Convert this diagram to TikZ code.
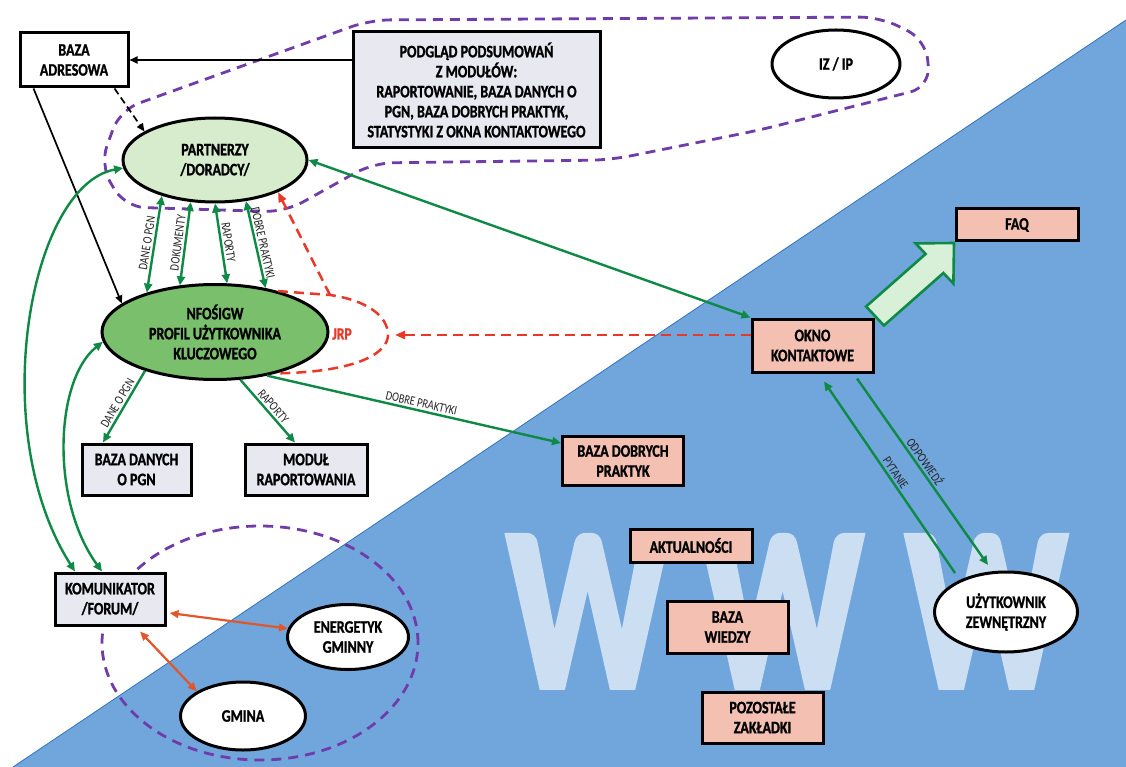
\documentclass[tikz,border=0pt]{standalone}
\usepackage{fontspec}
\setmainfont{Carlito}[FakeStretch=0.8, BoldFeatures={FakeBold=1.2}]
\newfontfamily\wwwfont{Carlito}[FakeStretch=0.76, BoldFeatures={FakeBold=2.5}]
\usetikzlibrary{arrows.meta,shapes.geometric,calc}
\definecolor{pgray}{RGB}{232,232,240}
\definecolor{salmon}{RGB}{244,192,178}
\definecolor{lgreen}{RGB}{214,236,204}
\definecolor{mgreen}{RGB}{122,192,108}
\definecolor{arrgreen}{RGB}{14,138,70}
\definecolor{bgblue}{RGB}{112,166,220}
\definecolor{bgedge}{RGB}{50,115,190}
\definecolor{wcol}{RGB}{204,222,242}
\definecolor{purp}{RGB}{112,60,170}
\definecolor{jrpred}{RGB}{234,56,40}
\definecolor{orar}{RGB}{226,86,44}
\definecolor{blockfill}{RGB}{216,240,216}
\newcommand\boxf{\bfseries\fontsize{17.5}{20}\selectfont}
\newcommand\lblf{\fontsize{13}{15}\selectfont}
\newcommand\wwwf{\wwwfont\bfseries\fontsize{233}{233}\selectfont}
\begin{document}
\begin{tikzpicture}[x=1pt,y=-1pt,
  box/.style={draw=black, line width=3pt, align=center, inner sep=2pt, font=\boxf},
  gbox/.style={box, fill=pgray},
  sbox/.style={box, fill=salmon},
  ell/.style={ellipse, draw=black, line width=3pt, align=center, inner sep=0pt, font=\boxf, fill=white},
  lbl/.style={font=\lblf, text=black!85, inner sep=2pt},
  garrow/.style={draw=arrgreen, line width=2.4pt, >={Triangle[length=9pt,width=8pt]}},
  barrow/.style={draw=black, line width=1.7pt, ->, >={Triangle[length=8pt,width=7pt]}},
  rdash/.style={draw=jrpred, line width=2.5pt, dash pattern=on 10pt off 6pt, >={Triangle[length=10pt,width=8pt]}},
  pdash/.style={draw=purp, line width=2.8pt, dash pattern=on 10pt off 7pt},
  oarrow/.style={draw=orar, line width=2.2pt, >={Triangle[length=9pt,width=7.5pt]}}
]
\useasboundingbox (0,0) rectangle (1126,767);
\fill[white] (0,0) rectangle (1126,767);
% blue web area
\fill[bgblue] (13,767) -- (1126,20) -- (1126,767) -- cycle;
\draw[bgedge, line width=0.8pt] (13,767) -- (1126,20);
% WWW letters
\node[anchor=base west, inner sep=0pt, text=wcol, font=\wwwf] (w1) at (507,687) {W};
\node[anchor=base west, inner sep=0pt, text=wcol, font=\wwwf] (w2) at (702,687) {W};
\node[anchor=base west, inner sep=0pt, text=wcol, font=\wwwf] (w3) at (906,687) {W};
% purple dashed groups
\draw[pdash, rounded corners=20pt] (490,161.5) -- (373,163) -- (285,212) -- (125,207) -- (100,165) -- (120,110) -- (370,20) -- (880,17) -- (926,40) -- (930,87) -- (760,130) -- (610,160) -- cycle;
\draw[pdash] (260,643) ellipse [x radius=158pt, y radius=117pt];

% nodes
\node[box, fill=white, minimum width=108pt, minimum height=54pt] (bazaadr) at (74,60) {BAZA\\ADRESOWA};
\node[gbox, minimum width=247pt, minimum height=116pt] (podglad) at (476.5,90) {PODGLĄD PODSUMOWAŃ\\Z MODUŁÓW:\\RAPORTOWANIE, BAZA DANYCH O\\PGN, BAZA DOBRYCH PRAKTYK,\\STATYSTYKI Z OKNA KONTAKTOWEGO};
\node[ell, minimum width=128pt, minimum height=68pt] (izip) at (836,64) {IZ / IP};
\node[ell, fill=lgreen, minimum width=184pt, minimum height=84pt] (partnerzy) at (215,160) {PARTNERZY\\/DORADCY/};
\node[ell, fill=mgreen, minimum width=226pt, minimum height=95pt] (nfos) at (215,332) {NFOŚIGW\\PROFIL UŻYTKOWNIKA\\KLUCZOWEGO};
\node[gbox, minimum width=109pt, minimum height=51pt] (bdpgn) at (136.5,469.5) {BAZA DANYCH\\O PGN};
\node[gbox, minimum width=122pt, minimum height=51pt] (modul) at (306,469.5) {MODUŁ\\RAPORTOWANIA};
\node[sbox, minimum width=121pt, minimum height=49pt] (bdp) at (623,461) {BAZA DOBRYCH\\PRAKTYK};
\node[sbox, minimum width=121pt, minimum height=53pt] (okno) at (812.5,345.5) {OKNO\\KONTAKTOWE};
\node[sbox, minimum width=122pt, minimum height=32pt] (faq) at (1017,225) {FAQ};
\node[sbox, minimum width=122pt, minimum height=33pt] (akt) at (691,545.5) {AKTUALNOŚCI};
\node[sbox, minimum width=121pt, minimum height=52pt] (bw) at (727.5,627) {BAZA\\WIEDZY};
\node[sbox, minimum width=121pt, minimum height=51pt] (poz) at (762.5,717.5) {POZOSTAŁE\\ZAKŁADKI};
\node[ell, minimum width=143pt, minimum height=80pt] (uzyt) at (1006,612) {UŻYTKOWNIK\\ZEWNĘTRZNY};
\node[gbox, minimum width=110pt, minimum height=52pt] (komunikator) at (110,599) {KOMUNIKATOR\\/FORUM/};
\node[ell, minimum width=121pt, minimum height=65pt] (energetyk) at (348,637) {ENERGETYK\\GMINNY};
\node[ell, minimum width=125pt, minimum height=68pt] (gmina) at (243,716) {GMINA};
\node[text=jrpred, font=\bfseries\fontsize{17}{19}\selectfont, inner sep=0pt] (jrp) at (342,334) {JRP};

% black connectors
\draw[barrow] (podglad.west |- bazaadr.east) -- (bazaadr.east);
\draw[barrow] ($(bazaadr.south west)+(15,0)$) -- (nfos.163);
\draw[barrow, dash pattern=on 7pt off 4pt] ($(bazaadr.south east)+(-15,0)$) -- (partnerzy.158);

% partnerzy <-> nfos
\draw[garrow,<->] (nfos.150) -- node[lbl, sloped, above] {DANE O PGN} (partnerzy.214);
\draw[garrow,<->] (nfos.127) -- node[lbl, sloped, above] {DOKUMENTY} (partnerzy.240);
\draw[garrow,<->] (partnerzy.270) -- node[lbl, sloped, above] {RAPORTY} (nfos.76);
\draw[garrow,<->] (partnerzy.307) -- node[lbl, sloped, above] {DOBRE PRAKTYKI} (nfos.41);

% nfos outputs
\draw[garrow,<-] ($(bdpgn.north)+(-33.5,0)$) -- node[lbl, sloped, above] {DANE O PGN} (nfos.209);
\draw[garrow,->] (nfos.298) -- node[lbl, sloped, above] {RAPORTY} ($(modul.north)+(-11,0)$);
\draw[garrow,->] (nfos.320) -- node[lbl, sloped, above, pos=0.52] {DOBRE PRAKTYKI} ($(bdp.west)+(0,-18)$);

% partnerzy <-> okno
\draw[garrow,<->] (partnerzy.east) -- (okno.north west);

% JRP
\draw[rdash] (nfos.33) -- (330,295) coordinate (jrpV) .. controls (365,300) and (388,315) .. (388,335) coordinate (jrpApex) .. controls (388,352) and (360,372) .. (nfos.326);
\draw[rdash,->] (jrpV) -- (partnerzy.333);
\draw[rdash,->] (okno.west |- jrpApex) -- ($(jrpApex)+(7,0)$);

% okno <-> uzytkownik
\draw[garrow,<-] ($(okno.south)+(11.5,8)$) -- node[lbl, sloped, above] {PYTANIE} ($(uzyt.center)+(-51,-39)$);
\draw[garrow,->] ($(okno.south)+(44.5,5)$) -- node[lbl, sloped, above, pos=0.47] {ODPOWIEDŹ} ($(uzyt.center)+(-18,-47)$);

% block arrow okno -> faq
\draw[draw=arrgreen, fill=blockfill, line width=2.6pt, line join=miter] (866.1,306.5) -- (925.6,254) -- (915.6,243.4) -- (954,243) -- (953.4,283.6) -- (943.4,273) -- (883.9,325.5) -- cycle;

% komunikator curves
\draw[garrow,<->] (partnerzy.185) .. controls (30,185) and (-15,430) .. ($(komunikator.north)+(-35,0)$);
\draw[garrow,<->] (nfos.185) .. controls (55,380) and (50,500) .. ($(komunikator.north)+(-8,0)$);

% komunikator <-> energetyk, gmina
\draw[oarrow,<->] ($(komunikator.east)+(3,14)$) -- (energetyk.172);
\draw[oarrow,<->] ($(komunikator.south)+(30,5)$) -- (gmina.152);
\end{tikzpicture}
\end{document}
